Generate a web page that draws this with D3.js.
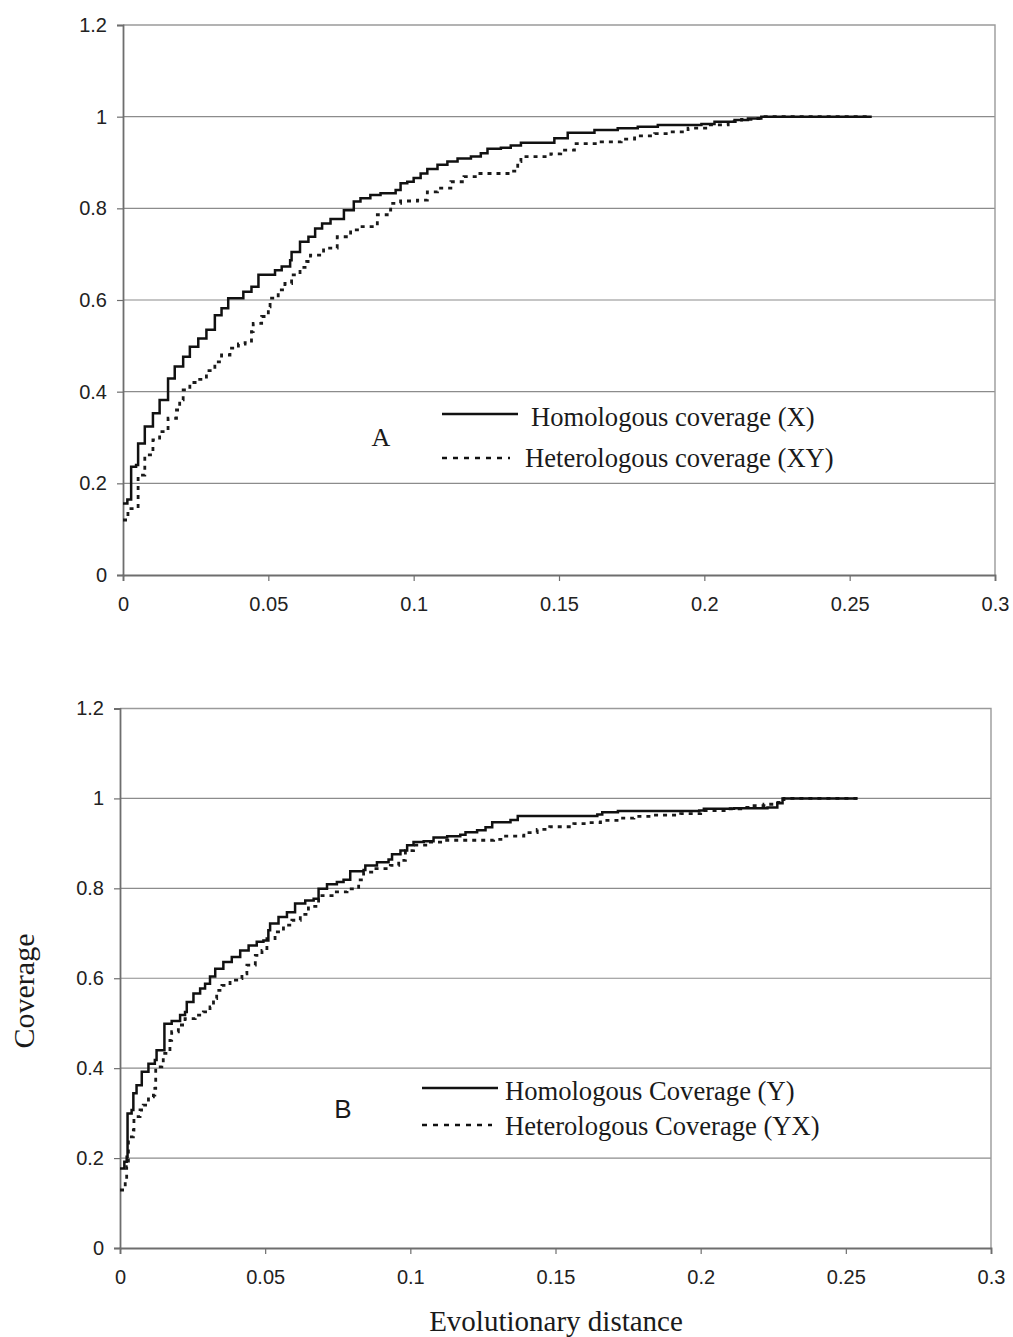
<!DOCTYPE html>
<html>
<head>
<meta charset="utf-8">
<script src="https://cdn.jsdelivr.net/npm/d3@7"></script>
<style>
  html, body { margin: 0; padding: 0; background: #fff; }
  svg { display: block; }
</style>
</head>
<body>
<svg id="chart" width="1013" height="1337"></svg>
<script>
// ---------- data ----------
const xTicks = [0, 0.05, 0.1, 0.15, 0.2, 0.25, 0.3];
const xTickLabels = ["0", "0.05", "0.1", "0.15", "0.2", "0.25", "0.3"];
const yTicks = [0, 0.2, 0.4, 0.6, 0.8, 1, 1.2];
const yTickLabels = ["0", "0.2", "0.4", "0.6", "0.8", "1", "1.2"];

const panelLabels = ["A", "B"];
const legendA = ["Homologous coverage (X)", "Heterologous coverage (XY)"];
const legendB = ["Homologous Coverage (Y)", "Heterologous Coverage (YX)"];
const yAxisTitle = "Coverage";
const xAxisTitle = "Evolutionary distance";

// Panel A – homologous coverage (X): [distance, coverage]
const homA = [
  [0, 0.156], [0.0015, 0.165], [0.0028, 0.236], [0.0045, 0.24], [0.0052, 0.287],
  [0.0075, 0.324], [0.0103, 0.353], [0.0126, 0.382], [0.0155, 0.429], [0.0178, 0.455],
  [0.0207, 0.476], [0.023, 0.498], [0.0259, 0.516], [0.0287, 0.535], [0.0316, 0.567],
  [0.0339, 0.582], [0.0362, 0.604], [0.0414, 0.618], [0.0442, 0.629], [0.0466, 0.655],
  [0.0523, 0.665], [0.0546, 0.673], [0.0575, 0.687], [0.058, 0.705], [0.0609, 0.727],
  [0.0638, 0.738], [0.0661, 0.756], [0.0685, 0.767], [0.0714, 0.777], [0.076, 0.796],
  [0.0794, 0.815], [0.0817, 0.822], [0.0851, 0.829], [0.0886, 0.833], [0.0938, 0.84],
  [0.0955, 0.855], [0.0978, 0.858], [0.1, 0.866], [0.1024, 0.876], [0.1047, 0.886],
  [0.1082, 0.895], [0.1116, 0.902], [0.1151, 0.909], [0.1197, 0.913], [0.1231, 0.92],
  [0.1254, 0.93], [0.13, 0.932], [0.1334, 0.937], [0.1369, 0.943], [0.1484, 0.953],
  [0.153, 0.965], [0.1622, 0.971], [0.1702, 0.975], [0.1771, 0.978], [0.184, 0.982],
  [0.199, 0.984], [0.2035, 0.989], [0.2104, 0.993], [0.215, 0.996], [0.2196, 1.0],
  [0.2576, 1.0]
];

// Panel A – heterologous coverage (XY)
const hetA = [
  [0, 0.12], [0.0017, 0.145], [0.0052, 0.218], [0.0075, 0.262], [0.0103, 0.295],
  [0.0126, 0.313], [0.0155, 0.342], [0.0184, 0.36], [0.0195, 0.382], [0.0207, 0.404],
  [0.023, 0.42], [0.0259, 0.427], [0.0287, 0.446], [0.0316, 0.465], [0.0339, 0.48],
  [0.0368, 0.495], [0.0397, 0.504], [0.042, 0.507], [0.0442, 0.531], [0.0448, 0.549],
  [0.0477, 0.564], [0.05, 0.585], [0.0506, 0.604], [0.0534, 0.622], [0.0557, 0.636],
  [0.058, 0.655], [0.0609, 0.671], [0.0632, 0.684], [0.0645, 0.698], [0.069, 0.713],
  [0.0737, 0.738], [0.0783, 0.753], [0.0817, 0.76], [0.0875, 0.786], [0.0909, 0.796],
  [0.0921, 0.811], [0.0955, 0.816], [0.1013, 0.818], [0.1047, 0.836], [0.1082, 0.844],
  [0.1128, 0.858], [0.1173, 0.869], [0.122, 0.876], [0.1334, 0.881], [0.1358, 0.902],
  [0.1369, 0.913], [0.1472, 0.919], [0.1506, 0.927], [0.1553, 0.941], [0.1645, 0.945],
  [0.1714, 0.951], [0.176, 0.958], [0.1829, 0.963], [0.1875, 0.967], [0.1944, 0.975],
  [0.2013, 0.982], [0.2082, 0.989], [0.2128, 0.994], [0.2173, 0.996], [0.22, 1.0],
  [0.2564, 1.0]
];

// Panel B – homologous coverage (Y)
const homB = [
  [0, 0.177], [0.0015, 0.192], [0.0023, 0.203], [0.0026, 0.299], [0.004, 0.307],
  [0.0046, 0.344], [0.0057, 0.362], [0.0075, 0.392], [0.0098, 0.41], [0.012, 0.418],
  [0.0126, 0.44], [0.0153, 0.499], [0.0178, 0.505], [0.0207, 0.518], [0.0224, 0.525],
  [0.023, 0.547], [0.0253, 0.566], [0.0276, 0.577], [0.0293, 0.588], [0.031, 0.604],
  [0.0328, 0.621], [0.0356, 0.636], [0.0385, 0.647], [0.0414, 0.662], [0.0443, 0.673],
  [0.0471, 0.681], [0.0494, 0.684], [0.0511, 0.707], [0.0517, 0.722], [0.0546, 0.736],
  [0.0575, 0.747], [0.0603, 0.766], [0.0638, 0.773], [0.0667, 0.777], [0.0684, 0.799],
  [0.0713, 0.809], [0.0747, 0.814], [0.077, 0.819], [0.0793, 0.838], [0.0839, 0.841],
  [0.0845, 0.851], [0.0885, 0.858], [0.0925, 0.864], [0.0937, 0.876], [0.0966, 0.884],
  [0.0989, 0.896], [0.1011, 0.903], [0.1046, 0.905], [0.108, 0.913], [0.1127, 0.916],
  [0.1172, 0.919], [0.119, 0.925], [0.123, 0.929], [0.1259, 0.936], [0.1282, 0.947],
  [0.1345, 0.952], [0.137, 0.961], [0.1644, 0.964], [0.1661, 0.969], [0.1715, 0.972],
  [0.1995, 0.973], [0.2011, 0.977], [0.2115, 0.978], [0.223, 0.98], [0.2264, 0.989],
  [0.2282, 1.0], [0.254, 1.0]
];

// Panel B – heterologous coverage (YX)
const hetB = [
  [0, 0.129], [0.0018, 0.147], [0.0023, 0.181], [0.0029, 0.247], [0.0046, 0.262],
  [0.0048, 0.292], [0.0069, 0.307], [0.008, 0.318], [0.0098, 0.336], [0.0115, 0.34],
  [0.012, 0.355], [0.0123, 0.403], [0.0144, 0.41], [0.0149, 0.433], [0.0172, 0.462],
  [0.0178, 0.481], [0.0201, 0.496], [0.0224, 0.51], [0.0259, 0.518], [0.0287, 0.525],
  [0.031, 0.536], [0.0322, 0.555], [0.0333, 0.573], [0.0351, 0.584], [0.0379, 0.596],
  [0.0402, 0.599], [0.042, 0.61], [0.0437, 0.629], [0.0466, 0.651], [0.0489, 0.662],
  [0.0506, 0.688], [0.0534, 0.703], [0.0563, 0.718], [0.0592, 0.729], [0.0621, 0.742],
  [0.0649, 0.76], [0.0684, 0.784], [0.0736, 0.792], [0.0782, 0.799], [0.0822, 0.819],
  [0.0839, 0.836], [0.0873, 0.844], [0.0931, 0.851], [0.096, 0.862], [0.0983, 0.884],
  [0.1011, 0.896], [0.1058, 0.903], [0.1115, 0.907], [0.1287, 0.909], [0.1322, 0.916],
  [0.1391, 0.924], [0.1437, 0.931], [0.148, 0.937], [0.1563, 0.944], [0.1609, 0.946],
  [0.1655, 0.951], [0.1721, 0.956], [0.177, 0.96], [0.1828, 0.963], [0.1931, 0.966],
  [0.2, 0.973], [0.2092, 0.977], [0.2138, 0.98], [0.2184, 0.984], [0.2218, 0.987],
  [0.2253, 0.991], [0.2287, 1.0], [0.254, 1.0]
];

// ---------- drawing ----------
const svg = d3.select("#chart");
const sansFont = "'Liberation Sans', Arial, sans-serif";
const serifFont = "'Liberation Serif', 'Times New Roman', serif";

const panels = [
  {
    left: 123, right: 995, top: 25, bottom: 575,
    hom: homA, het: hetA, label: panelLabels[0], labelFont: serifFont,
    labelPos: [381, 446], legend: legendA,
    leg: { x1: 442, x2: 518, ySolid: 414, yDash: 458, dashEnd: 510,
           tx1: 531, tx2: 525, tb1: 426, tb2: 467 }
  },
  {
    left: 120, right: 991, top: 708.5, bottom: 1248,
    hom: homB, het: hetB, label: panelLabels[1], labelFont: sansFont,
    labelPos: [343, 1118], legend: legendB,
    leg: { x1: 422, x2: 498, ySolid: 1088, yDash: 1125, dashEnd: 492,
           tx1: 505, tx2: 505, tb1: 1100, tb2: 1135 }
  }
];

panels.forEach(p => {
  const x = d3.scaleLinear().domain([0, 0.3]).range([p.left, p.right]);
  const y = d3.scaleLinear().domain([0, 1.2]).range([p.bottom, p.top]);
  const g = svg.append("g");

  // gridlines
  g.append("g")
    .selectAll("line")
    .data(yTicks.filter(v => v > 0 && v < 1.2))
    .join("line")
    .attr("x1", p.left).attr("x2", p.right)
    .attr("y1", d => y(d)).attr("y2", d => y(d))
    .attr("stroke", "#8c8c8c").attr("stroke-width", 1.1);

  // top and right border
  g.append("path")
    .attr("d", `M${p.left},${y(1.2)}H${p.right}V${p.bottom}`)
    .attr("fill", "none").attr("stroke", "#9a9a9a").attr("stroke-width", 1.4);

  // x axis
  const xAxis = d3.axisBottom(x).tickValues(xTicks)
    .tickFormat((d, i) => xTickLabels[i]).tickSize(6).tickPadding(16);
  const gx = g.append("g").attr("transform", `translate(0,${p.bottom})`).call(xAxis);
  gx.select(".domain").attr("stroke", "#6e6e6e").attr("stroke-width", 1.8);
  gx.selectAll(".tick line").attr("stroke", "#6e6e6e").attr("stroke-width", 1.2);
  gx.selectAll(".tick text").attr("font-family", sansFont).attr("font-size", 20)
    .attr("fill", "#222");

  // y axis
  const yAxis = d3.axisLeft(y).tickValues(yTicks)
    .tickFormat((d, i) => yTickLabels[i]).tickSize(6).tickPadding(10);
  const gy = g.append("g").attr("transform", `translate(${p.left},0)`).call(yAxis);
  gy.select(".domain").attr("stroke", "#6e6e6e").attr("stroke-width", 1.8);
  gy.selectAll(".tick line").attr("stroke", "#6e6e6e").attr("stroke-width", 1.2);
  gy.selectAll(".tick text").attr("font-family", sansFont).attr("font-size", 20)
    .attr("fill", "#222");

  // curves
  const line = d3.line().x(d => x(d[0])).y(d => y(d[1])).curve(d3.curveStepAfter);
  g.append("path").datum(p.het).attr("d", line)
    .attr("fill", "none").attr("stroke", "#1a1a1a").attr("stroke-width", 2.8)
    .attr("stroke-dasharray", "4,5");
  g.append("path").datum(p.hom).attr("d", line)
    .attr("fill", "none").attr("stroke", "#111").attr("stroke-width", 2.5)
    .attr("stroke-linejoin", "miter");

  // panel label
  g.append("text").attr("x", p.labelPos[0]).attr("y", p.labelPos[1])
    .attr("text-anchor", "middle").attr("font-family", p.labelFont)
    .attr("font-size", 26).attr("fill", "#1a1a1a").text(p.label);

  // legend
  const L = p.leg;
  g.append("line").attr("x1", L.x1).attr("x2", L.x2).attr("y1", L.ySolid).attr("y2", L.ySolid)
    .attr("stroke", "#111").attr("stroke-width", 2.4);
  g.append("line").attr("x1", L.x1).attr("x2", L.dashEnd).attr("y1", L.yDash).attr("y2", L.yDash)
    .attr("stroke", "#111").attr("stroke-width", 2.4).attr("stroke-dasharray", "5,6");
  g.append("text").attr("x", L.tx1).attr("y", L.tb1)
    .attr("font-family", serifFont).attr("font-size", 26.6).attr("fill", "#1a1a1a")
    .text(p.legend[0]);
  g.append("text").attr("x", L.tx2).attr("y", L.tb2)
    .attr("font-family", serifFont).attr("font-size", 26.6).attr("fill", "#1a1a1a")
    .text(p.legend[1]);
});

// axis titles
svg.append("text")
  .attr("transform", "translate(34,991) rotate(-90)")
  .attr("text-anchor", "middle").attr("font-family", serifFont)
  .attr("font-size", 30).attr("fill", "#1a1a1a").text(yAxisTitle);

svg.append("text")
  .attr("x", 556).attr("y", 1331)
  .attr("text-anchor", "middle").attr("font-family", serifFont)
  .attr("font-size", 29).attr("fill", "#1a1a1a").text(xAxisTitle);
</script>
</body>
</html>
